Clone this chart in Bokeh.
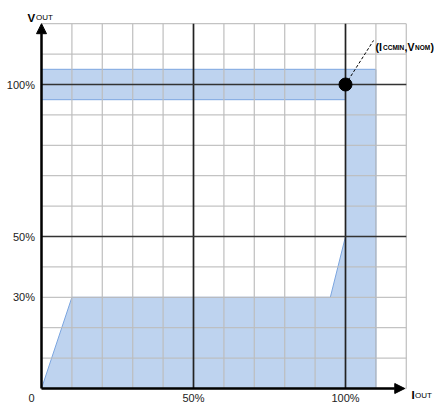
from bokeh.plotting import figure
from bokeh.models import Arrow, NormalHead, Label
from bokeh.core.properties import value
from bokeh.embed import file_html
from bokeh.resources import INLINE

# ---- data (percent of nominal) ----
grid_ticks = list(range(0, 130, 10))
major_ticks = [50, 100]
region_x = [0, 10, 95, 100, 100, 0, 0, 110, 110]
region_y = [0, 30, 30, 50, 95, 95, 105, 105, 0]
y_tick_vals = [100, 50, 30]
y_tick_labels = ["100%", "50%", "30%"]
x_tick_vals = [50, 100]
x_tick_labels = ["50%", "100%"]
point_x = [100]
point_y = [100]
axis_max = 120

# ---- layout mapping ----
W, H = 434, 405
S = 3.04            # px per percent
X0, Y0 = 41, 388    # origin in picture pixels (from left / top)
OFF = 0             # page offset of the figure

def dx(img_px):
    return (img_px - OFF - X0) / S

def dy(img_py):
    return (Y0 - (img_py - OFF)) / S

p = figure(width=W, height=H, output_backend="svg", toolbar_location=None,
           x_range=(-X0 / S, (W - X0) / S), y_range=(-(H - Y0) / S, Y0 / S),
           min_border=0)
p.axis.visible = False
p.grid.visible = False
p.outline_line_color = None
p.background_fill_color = "white"
p.border_fill_color = "white"

FONT = "Liberation Sans"

# filled region
p.patch(region_x, region_y, fill_color="#bed3ef", line_color="#7ca6e0", line_width=1)

# grid
minor = [t for t in grid_ticks if t not in major_ticks]
p.multi_line([[t, t] for t in minor], [[0, axis_max]] * len(minor),
             line_color="#bdbdbd", line_width=1.3, line_alpha=0.9)
p.multi_line([[0, axis_max]] * len(minor), [[t, t] for t in minor],
             line_color="#bdbdbd", line_width=1.3, line_alpha=0.9)
p.multi_line([[t, t] for t in major_ticks], [[0, axis_max]] * len(major_ticks),
             line_color="#222222", line_width=1.7)
p.multi_line([[0, axis_max]] * len(major_ticks), [[t, t] for t in major_ticks],
             line_color="#333333", line_width=1.5)

# axes with arrows
p.add_layout(Arrow(x_start=0, y_start=0, x_end=axis_max - 0.5, y_end=0, line_width=2.5,
                   line_color="black",
                   end=NormalHead(size=10, fill_color="black", line_color="black")))
p.add_layout(Arrow(x_start=0, y_start=0, x_end=0, y_end=axis_max, line_width=2.5,
                   line_color="black",
                   end=NormalHead(size=10, fill_color="black", line_color="black")))

# point + leader
p.line([point_x[0], dx(373)], [point_y[0], dy(40)], line_color="black",
       line_width=1, line_dash="3 2")
p.scatter(point_x, point_y, size=13, fill_color="black", line_color="black")

# tick labels
p.text(x=[dx(34.5)] * len(y_tick_vals), y=y_tick_vals, text=y_tick_labels,
       text_align="right", text_baseline="middle", text_font=value(FONT),
       text_font_size="11px", text_color="#222222")
p.text(x=x_tick_vals, y=[dy(397)] * len(x_tick_vals), text=x_tick_labels,
       text_align="center", text_baseline="middle", text_font=value(FONT),
       text_font_size="11px", text_color="#222222")
p.text(x=[dx(31)], y=[dy(397)], text=["0"], text_align="center",
       text_baseline="middle", text_font=value(FONT), text_font_size="11px",
       text_color="#222222")

def lab(txt, xpx, ypx, size, bold=True):
    p.add_layout(Label(x=dx(xpx), y=dy(ypx), text=txt, text_font=FONT,
                       text_font_size=size, text_font_style="bold" if bold else "normal",
                       text_align="left", text_baseline="alphabetic",
                       text_color="black"))

# axis titles
lab("V", 27, 17, "11.5px")
lab("OUT", 35.5, 17, "8px", bold=False)
lab("I", 411, 394.5, "11.5px")
lab("OUT", 414.5, 394.5, "8px", bold=False)

# annotation label
lab("(I", 375, 46.5, "10.5px")
lab("CCMIN", 382.5, 46.5, "6.5px")
lab(",", 404, 46.5, "10.5px")
lab("V", 407, 46.5, "10.5px")
lab("NOM", 414.5, 46.5, "6.5px")
lab(")", 430, 46.5, "10.5px")

open("out.html", "w").write(file_html(p, INLINE))
